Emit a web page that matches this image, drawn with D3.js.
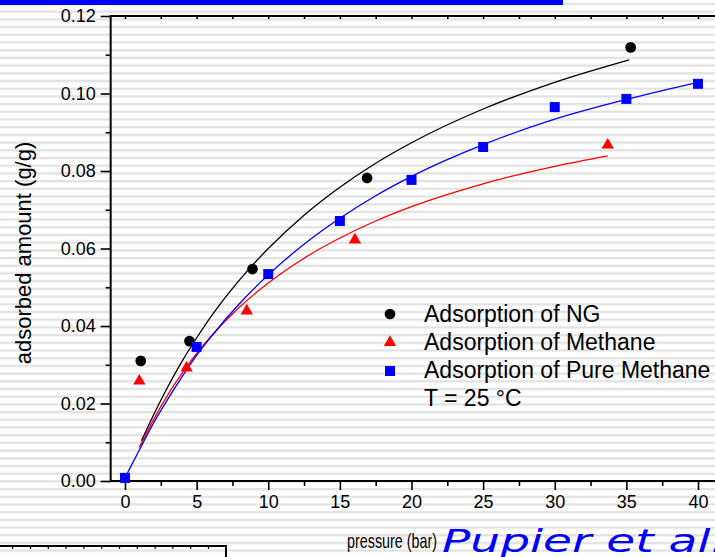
<!DOCTYPE html>
<html><head><meta charset="utf-8">
<script src="https://cdn.jsdelivr.net/npm/d3@7"></script>
<style>html,body{margin:0;padding:0;background:#fff;overflow:hidden}</style>
</head><body><svg id="c" width="715" height="557"></svg>
<script>
// Measured isotherm points, pressure in bar, uptake in g/g
const pressureNG = [1.1, 4.5, 8.9, 16.9, 35.3];
const amountNG = [0.0310, 0.0361, 0.0547, 0.0782, 0.1119];
const pressureMethane = [1.0, 4.3, 8.5, 16.05, 33.7];
const amountMethane = [0.0258, 0.0292, 0.0439, 0.0622, 0.0867];
const pressurePure = [0, 5, 10, 15, 20, 25, 30, 35, 40];
const amountPure = [0.0008, 0.0346, 0.0534, 0.0671, 0.0777, 0.0862, 0.0965, 0.0986, 0.1025];

// Fitted isotherm curves
const fitPressureNG = [1.15, 2, 3, 4, 5, 6, 8, 10, 12.5, 15, 17.5, 20, 25, 30, 35.2];
const fitAmountNG = [0.0104, 0.0171, 0.0244, 0.0310, 0.0369, 0.0424, 0.0519, 0.0600, 0.0686, 0.0758, 0.0820, 0.0873, 0.0960, 0.1029, 0.1087];
const fitPressureMethane = [1, 2, 3, 4, 5, 6, 8, 10, 12.5, 15, 17.5, 20, 25, 30, 33.7];
const fitAmountMethane = [0.0087, 0.0159, 0.0223, 0.0279, 0.0329, 0.0373, 0.0449, 0.0511, 0.0575, 0.0627, 0.0671, 0.0708, 0.0767, 0.0812, 0.0839];
const fitPressurePure = [0, 1, 2, 3, 4, 5, 6, 8, 10, 12.5, 15, 17.5, 20, 25, 30, 35, 40];
const fitAmountPure = [0.0008, 0.0080, 0.0150, 0.0212, 0.0270, 0.0324, 0.0372, 0.0458, 0.0532, 0.0611, 0.0678, 0.0736, 0.0786, 0.0868, 0.0934, 0.0985, 0.1029];

// Axis ticks
const xMajorTicks = [0, 5, 10, 15, 20, 25, 30, 35, 40];
const xMinorTicks = [2.5, 7.5, 12.5, 17.5, 22.5, 27.5, 32.5, 37.5, 42.5];
const yMajorTicks = [0, 0.02, 0.04, 0.06, 0.08, 0.10, 0.12];
const yMinorTicks = [0.01, 0.03, 0.05, 0.07, 0.09, 0.11];

const legendLabels = ["Adsorption of NG", "Adsorption of Methane", "Adsorption of Pure Methane", "T = 25 °C"];

const svg = d3.select("#c");
const W = 715, H = 557;

// striped backdrop
const defs = svg.append("defs");
const pat = defs.append("pattern").attr("id", "stripes")
  .attr("patternUnits", "userSpaceOnUse").attr("width", 20).attr("height", 7.7);
pat.append("rect").attr("width", 20).attr("height", 7.7).attr("fill", "#fff");
pat.append("rect").attr("y", 2.85).attr("width", 20).attr("height", 2.3).attr("fill", "#e2e2e2");
svg.append("rect").attr("width", W).attr("height", H).attr("fill", "url(#stripes)");

// title bar
svg.append("rect").attr("x", 0).attr("y", 0).attr("width", 563).attr("height", 5).attr("fill", "#0000ff");

const x = d3.scaleLinear().domain([0, 40]).range([125, 698]);
const y = d3.scaleLinear().domain([0, 0.12]).range([481, 16]);
const xLeft = x(-1), xRight = x(45);

const frame = svg.append("g").attr("stroke", "#000").attr("stroke-width", 2).attr("fill", "none");
frame.append("line").attr("x1", xLeft).attr("x2", xLeft).attr("y1", y(0.12) - 1).attr("y2", y(0) + 1);
frame.append("line").attr("x1", xLeft).attr("x2", xRight).attr("y1", y(0)).attr("y2", y(0));
frame.append("line").attr("x1", xLeft).attr("x2", xRight).attr("y1", y(0.12)).attr("y2", y(0.12));

const tickFont = "'Liberation Sans Narrow', 'Liberation Sans', Arial, sans-serif";

// bottom axis
svg.append("g").attr("transform", `translate(0,${y(0)})`)
  .call(d3.axisBottom(x).tickValues(xMajorTicks).tickSize(9).tickPadding(5).tickFormat(d3.format("d")));
svg.append("g").attr("transform", `translate(0,${y(0)})`)
  .call(d3.axisBottom(x).tickValues(xMinorTicks).tickSize(5).tickFormat(""));
// top axis ticks (inward)
svg.append("g").attr("transform", `translate(0,${y(0.12)})`)
  .call(d3.axisTop(x).tickValues(xMajorTicks.concat(xMinorTicks)).tickSize(-3).tickFormat(""));
// left axis
svg.append("g").attr("transform", `translate(${xLeft},0)`)
  .call(d3.axisLeft(y).tickValues(yMajorTicks).tickSize(10).tickPadding(5).tickFormat(d3.format(".2f")));
svg.append("g").attr("transform", `translate(${xLeft},0)`)
  .call(d3.axisLeft(y).tickValues(yMinorTicks).tickSize(5).tickFormat(""));

svg.selectAll(".domain").remove();
svg.selectAll(".tick line").attr("stroke", "#000").attr("stroke-width", 1.6);
svg.selectAll(".tick text").attr("font-family", tickFont).attr("font-size", 18).attr("fill", "#000");

// fitted curves
const curveData = [
  {p: fitPressureNG, q: fitAmountNG, color: "#000000"},
  {p: fitPressureMethane, q: fitAmountMethane, color: "#ff0000"},
  {p: fitPressurePure, q: fitAmountPure, color: "#0000ff"}
];
const line = d3.line().x(d => x(d[0])).y(d => y(d[1])).curve(d3.curveMonotoneX);
curveData.forEach(c => {
  svg.append("path").attr("d", line(c.p.map((v, i) => [v, c.q[i]])))
    .attr("fill", "none").attr("stroke", c.color).attr("stroke-width", 1.3);
});

// markers
const series = [
  {p: pressureNG, q: amountNG, color: "#000000", sym: d3.symbolCircle, size: 90},
  {p: pressureMethane, q: amountMethane, color: "#ff0000", sym: d3.symbolTriangle, size: 66},
  {p: pressurePure, q: amountPure, color: "#0000ff", sym: d3.symbolSquare, size: 100}
];
series.forEach(s => {
  svg.append("g").selectAll("path").data(s.p.map((v, i) => [v, s.q[i]])).join("path")
    .attr("transform", d => `translate(${x(d[0])},${y(d[1])})`)
    .attr("d", d3.symbol().type(s.sym).size(s.size)())
    .attr("fill", s.color);
});

// legend
const lg = svg.append("g");
series.forEach((s, i) => {
  lg.append("path").attr("transform", `translate(390,${314 + i * 28.5})`)
    .attr("d", d3.symbol().type(s.sym).size(s.size)()).attr("fill", s.color);
});
legendLabels.forEach((t, i) => {
  lg.append("text").attr("x", 424).attr("y", 321.5 + i * 28.3)
    .attr("font-family", "'Liberation Sans', Arial, sans-serif").attr("font-size", 23)
    .attr("fill", "#000").text(t);
});

// axis titles
svg.append("text").attr("transform", "translate(31,253) rotate(-90)")
  .attr("text-anchor", "middle").attr("font-family", "'Liberation Sans', Arial, sans-serif")
  .attr("font-size", 22).attr("fill", "#000").text("adsorbed amount (g/g)");
svg.append("text").attr("x", 347).attr("y", 548)
  .attr("font-family", tickFont).attr("font-size", 21)
  .attr("textLength", 90).attr("lengthAdjust", "spacingAndGlyphs")
  .attr("fill", "#000").text("pressure (bar)");
svg.append("text").attr("transform", "translate(442,552) scale(1.47,1)")
  .attr("font-family", "'DejaVu Sans', sans-serif").attr("font-style", "italic")
  .attr("font-size", 32).attr("fill", "#0000ff").text("Pupier et al.");

// lower panel edge
const bx = svg.append("g").attr("stroke", "#000").attr("fill", "none");
bx.append("path").attr("d", "M0,546H226V557").attr("stroke-width", 2);
d3.range(12).forEach(k => {
  bx.append("line").attr("x1", 12.7 + k * 17.8).attr("x2", 12.7 + k * 17.8)
    .attr("y1", 546).attr("y2", 549).attr("stroke-width", 1.2);
});
</script></body></html>
